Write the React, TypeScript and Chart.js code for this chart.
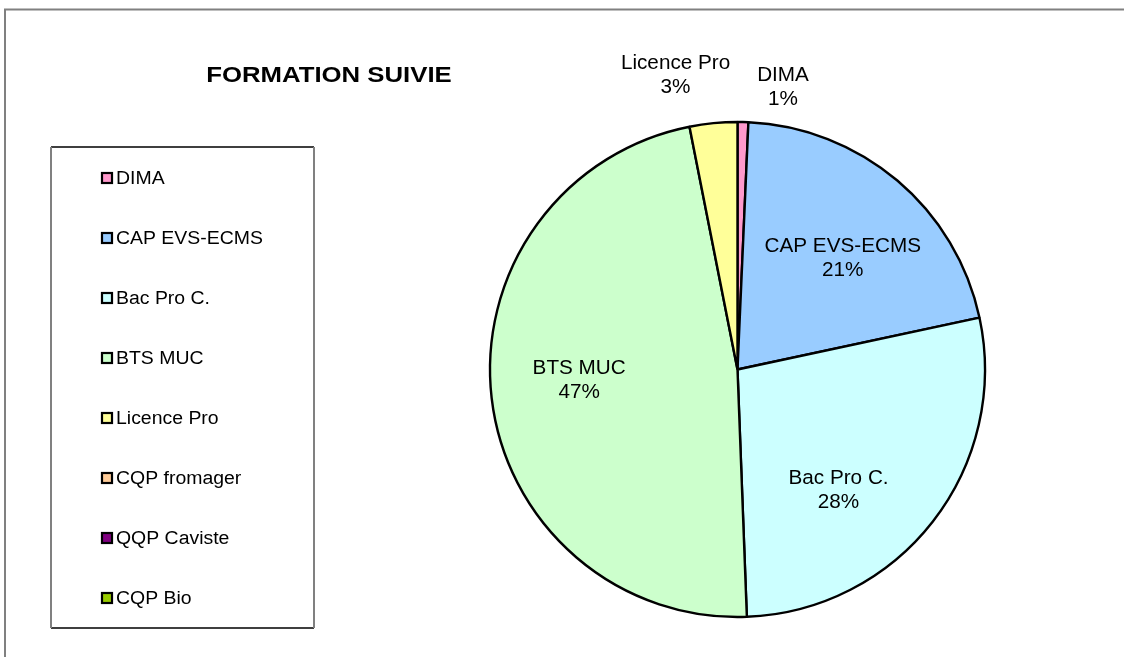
import React, { useEffect, useRef } from "react";
import { Chart, registerables } from "chart.js";

Chart.register(...registerables);

const chartTitle = "FORMATION SUIVIE";
const categories = [
  "DIMA",
  "CAP EVS-ECMS",
  "Bac Pro C.",
  "BTS MUC",
  "Licence Pro",
  "CQP fromager",
  "QQP Caviste",
  "CQP Bio",
];
const shares = [0.7, 20.9, 27.7, 47.4, 3.1, 0, 0, 0];
const sliceColors = [
  "#FF99CC",
  "#99CCFF",
  "#CCFFFF",
  "#CCFFCC",
  "#FFFF99",
  "#FFCC99",
  "#800080",
  "#99CC00",
];
const labelOutside = [true, false, false, false, true, false, false, false];
const labelNudges = [
  [39, 15],
  [3, 10],
  [-24, 24],
  [-1, -8],
  [-33, 1],
  [0, 0],
  [0, 0],
  [0, 0],
];

const FONT = "'Liberation Sans', Arial, sans-serif";

function drawScaledText(
  ctx: CanvasRenderingContext2D,
  text: string,
  x: number,
  y: number,
  sx: number,
  align: CanvasTextAlign
) {
  ctx.save();
  ctx.translate(x, y);
  ctx.scale(sx, 1);
  ctx.textAlign = align;
  ctx.fillText(text, 0, 0);
  ctx.restore();
}

const decorPlugin = {
  id: "decor",
  beforeDraw(chart: any) {
    const ctx: CanvasRenderingContext2D = chart.ctx;
    ctx.save();
    ctx.fillStyle = "#ffffff";
    ctx.fillRect(0, 0, chart.width, chart.height);
    ctx.strokeStyle = "#808080";
    ctx.lineWidth = 2;
    ctx.beginPath();
    ctx.moveTo(5, chart.height + 2);
    ctx.lineTo(5, 9.5);
    ctx.lineTo(chart.width + 2, 9.5);
    ctx.stroke();
    ctx.restore();
  },
  afterDatasetsDraw(chart: any) {
    const ctx: CanvasRenderingContext2D = chart.ctx;
    const meta = chart.getDatasetMeta(0);
    const data: number[] = chart.data.datasets[0].data;
    const total = data.reduce((a, b) => a + b, 0);
    ctx.save();
    ctx.fillStyle = "#000000";
    ctx.font = `20.5px ${FONT}`;
    ctx.textBaseline = "middle";
    meta.data.forEach((arc: any, i: number) => {
      const v = data[i];
      if (!v) return;
      const p = arc.getProps(["x", "y", "startAngle", "endAngle", "outerRadius"], true);
      const mid = (p.startAngle + p.endAngle) / 2;
      const r = labelOutside[i] ? p.outerRadius * 1.2 : p.outerRadius * 0.64;
      const x = p.x + Math.cos(mid) * r + labelNudges[i][0];
      const y = p.y + Math.sin(mid) * r + labelNudges[i][1];
      const pct = Math.round((v / total) * 100) + "%";
      drawScaledText(ctx, String(chart.data.labels[i]), x, y - 12, 1.01, "center");
      drawScaledText(ctx, pct, x, y + 12, 1.01, "center");
    });
    ctx.restore();
  },
  afterDraw(chart: any) {
    const ctx: CanvasRenderingContext2D = chart.ctx;
    ctx.save();
    ctx.fillStyle = "#000000";
    ctx.font = `bold 22px ${FONT}`;
    ctx.textBaseline = "middle";
    drawScaledText(ctx, chartTitle, 329, 76, 1.17, "center");

    const L = 51, T = 147, R = 314, B = 628;
    ctx.strokeStyle = "#000000";
    ctx.lineWidth = 1.5;
    ctx.beginPath();
    ctx.moveTo(L, T);
    ctx.lineTo(R, T);
    ctx.moveTo(L, B);
    ctx.lineTo(R, B);
    ctx.stroke();
    ctx.strokeStyle = "#808080";
    ctx.lineWidth = 2;
    ctx.beginPath();
    ctx.moveTo(L, T);
    ctx.lineTo(L, B);
    ctx.moveTo(R, T);
    ctx.lineTo(R, B);
    ctx.stroke();

    const labels: string[] = chart.data.labels;
    const colors: string[] = chart.data.datasets[0].backgroundColor;
    ctx.font = `18px ${FONT}`;
    ctx.textBaseline = "middle";
    labels.forEach((lab, i) => {
      const cy = 178 + i * 60;
      ctx.fillStyle = colors[i];
      ctx.fillRect(102, cy - 5, 10, 10);
      ctx.strokeStyle = "#000000";
      ctx.lineWidth = 2.2;
      ctx.strokeRect(102, cy - 5, 10, 10);
      ctx.fillStyle = "#000000";
      drawScaledText(ctx, lab, 116, cy + 1, 1.08, "left");
    });
    ctx.restore();
  },
};

export default function App() {
  const canvasRef = useRef<HTMLCanvasElement | null>(null);

  useEffect(() => {
    document.body.style.margin = "0";
    const canvas = canvasRef.current;
    if (!canvas) return;
    const chart = new Chart(canvas, {
      type: "pie",
      data: {
        labels: categories,
        datasets: [
          {
            data: shares,
            backgroundColor: sliceColors,
            borderColor: "#000000",
            borderWidth: 2.4,
          },
        ],
      },
      options: {
        responsive: false,
        animation: false,
        radius: 247.5,
        layout: {
          padding: { left: 487.5, top: 119.5, right: 136.5, bottom: 37.5 },
        },
        plugins: {
          legend: { display: false },
          tooltip: { enabled: false },
          title: { display: false },
        },
      } as any,
      plugins: [decorPlugin as any],
    });
    return () => chart.destroy();
  }, []);

  return (
    <canvas
      ref={canvasRef}
      width={1124}
      height={657}
      style={{ display: "block", width: 1124, height: 657 }}
    />
  );
}
